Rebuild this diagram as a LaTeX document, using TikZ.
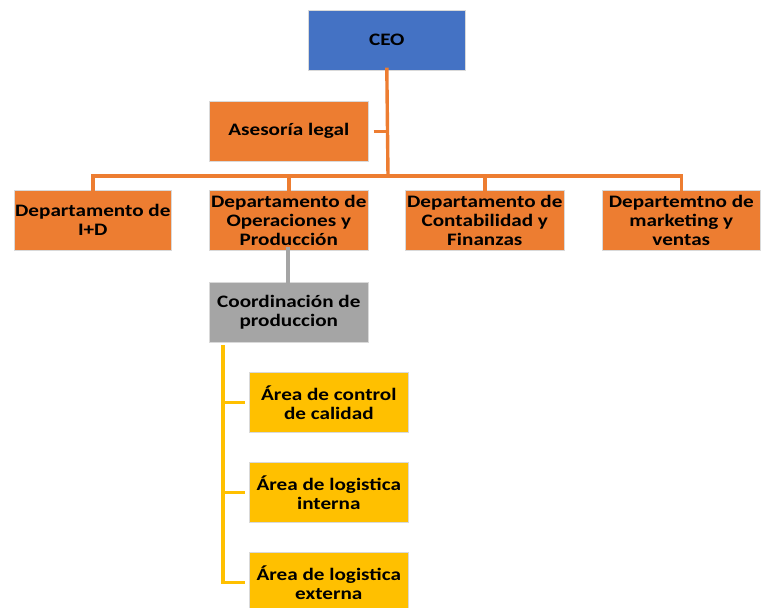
\documentclass[tikz,border=0pt]{standalone}
\usepackage{fontspec}
\setmainfont{Carlito}[FakeStretch=1.21]
\definecolor{oblue}{HTML}{4472C4}
\definecolor{oorange}{HTML}{ED7D31}
\definecolor{ogray}{HTML}{A5A5A5}
\definecolor{oyellow}{HTML}{FFC000}
\tikzset{
  box/.style={draw=white!85!black, line width=0.6pt, minimum width=159pt, minimum height=60pt, inner sep=0pt, align=center, font=\fontsize{17.5}{19}\selectfont\bfseries, anchor=north west},
  obox/.style={box, fill=oorange},
  conn/.style={line width=3.4pt},
}
\begin{document}
\begin{tikzpicture}[x=1pt,y=-1pt]
\useasboundingbox (0,0) rectangle (761,608);
\node[box, fill=oblue, minimum width=157pt] (ceo) at (308,10) {CEO};
\node[obox] (legal) at (209,101) {Asesoría legal};
\node[obox, minimum width=157pt] (id) at (14,190) {Departamento de\\I+D};
\node[obox] (ops) at (209,190) {Departamento de\\Operaciones y\\Producción};
\node[obox] (cont) at (405,190) {Departamento de\\Contabilidad y\\Finanzas};
\node[obox, minimum width=158pt] (mkt) at (602,190) {Departemtno de\\marketing y\\ventas};
\node[box, fill=ogray] (coord) at (209,282) {Coordinación de\\produccion};
\node[box, fill=oyellow] (a1) at (249,372) {Área de control\\de calidad};
\node[box, fill=oyellow] (a2) at (249,462) {Área de logistica\\interna};
\node[box, fill=oyellow] (a3) at (249,552) {Área de logistica\\externa};
\coordinate (bus) at (388,176);
\begin{scope}[conn, draw=oorange]
\draw ([yshift=3pt]ceo.south) -- (bus);
\draw ([xshift=5pt]legal.east) -- (legal.east -| bus);
\draw ([yshift=-3pt]id.north) |- (bus);
\draw ([yshift=-3pt]ops.north) -- (ops.north |- bus);
\draw ([yshift=-3pt]cont.north) -- (cont.north |- bus);
\draw ([yshift=-3pt]mkt.north) |- (bus);
\end{scope}
\draw[conn, draw=ogray] ([xshift=-1pt,yshift=4pt]ops.south) -- ([xshift=-1pt,yshift=-4pt]coord.north);
\coordinate (ytop) at (223,345);
\draw[conn, draw=oyellow] (ytop) |- ([xshift=-4pt]a3.west);
\draw[conn, draw=oyellow] (a1.west -| ytop) -- ([xshift=-4pt]a1.west);
\draw[conn, draw=oyellow] (a2.west -| ytop) -- ([xshift=-4pt]a2.west);
\end{tikzpicture}
\end{document}
